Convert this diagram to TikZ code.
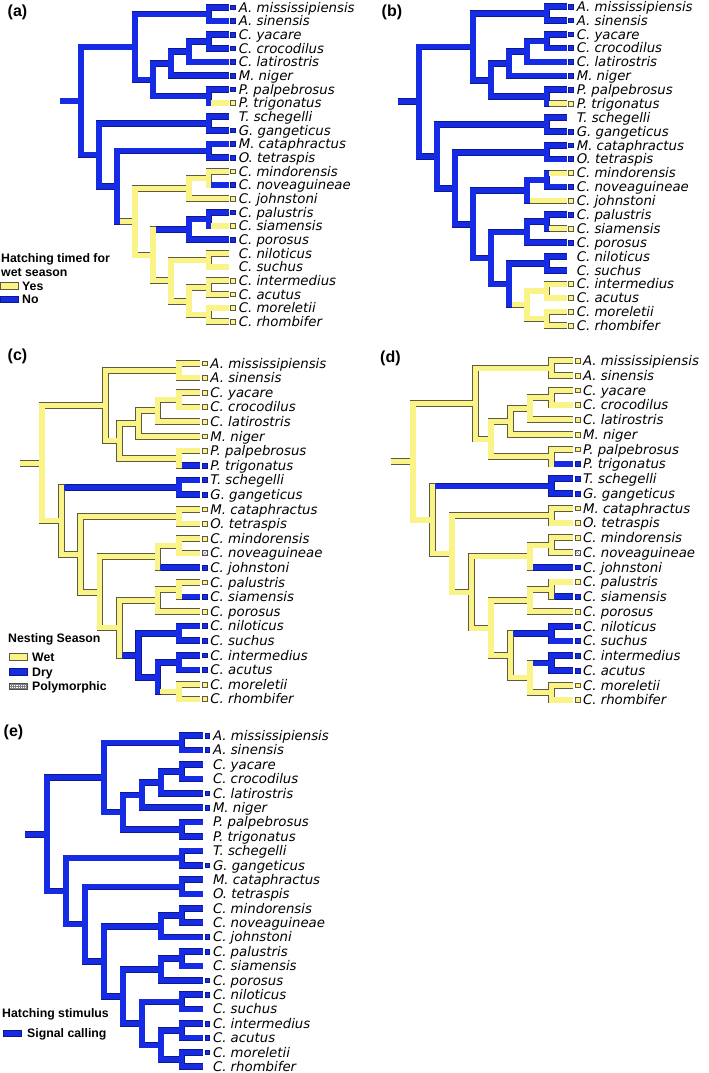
\documentclass[tikz,border=0pt]{standalone}
\usepackage{fontspec}
\setmainfont{Liberation Sans}
\newfontfamily\tipfont{DejaVu Sans}

\definecolor{wetyel}{RGB}{250,243,135}
\definecolor{wetedge}{RGB}{95,90,62}
\definecolor{dryblu}{RGB}{22,44,228}
\definecolor{dryedge}{RGB}{14,24,140}

% tree layout (same topology in every panel)
\def\leaflist{Amis,Asin,Cyac,Ccro,Clat,Mnig,Ppal,Ptri,Tsch,Ggan,Mcat,Otet,Cmin,Cnov,Cjoh,Cpal,Csia,Cpor,Cnil,Csuc,Cint,Cacu,Cmor,Crho}
\def\nodelist{nAll/7.1/0.5, nYC/7.1/2.5, nLat/6/3.25, nNig/5/4.125, nPale/7.1/6.5,
  nCai/4/5.3125, nAlg/\al/2.90625, nTG/7.1/8.5, nMO/7.1/10.5, nMN/7.1/12.5,
  nMJ/6/13.25, nPS/7.1/15.5, nPP/6/16.25, nNS/7.1/18.5, nIA/7.1/20.5, nMR/7.1/22.5,
  nIR/6/21.5, nNI/5/20, nPN/4/18.125, nCro/3/15.6875, nMC/2/13.09375,
  nCdl/1/10.796875, root/0/6.8515625}
\def\edgelist{Amis/nAll, Asin/nAll, Cyac/nYC, Ccro/nYC, nYC/nLat, Clat/nLat,
  nLat/nNig, Mnig/nNig, Ppal/nPale, Ptri/nPale, nNig/nCai, nPale/nCai, nAll/nAlg,
  nCai/nAlg, Tsch/nTG, Ggan/nTG, Mcat/nMO, Otet/nMO, Cmin/nMN, Cnov/nMN, nMN/nMJ,
  Cjoh/nMJ, Cpal/nPS, Csia/nPS, nPS/nPP, Cpor/nPP, Cnil/nNS, Csuc/nNS, Cint/nIA,
  Cacu/nIA, Cmor/nMR, Crho/nMR, nIA/nIR, nMR/nIR, nNS/nNI, nIR/nNI, nPP/nPN,
  nNI/nPN, nMJ/nCro, nPN/nCro, nMO/nMC, nCro/nMC, nTG/nCdl, nMC/nCdl, nAlg/root,
  nCdl/root, root/base}
\def\vertlist{nAll/Amis/Asin, nYC/Cyac/Ccro, nLat/nYC/Clat, nNig/nLat/Mnig,
  nPale/Ppal/Ptri, nCai/nNig/nPale, nAlg/nAll/nCai, nTG/Tsch/Ggan, nMO/Mcat/Otet,
  nMN/Cmin/Cnov, nMJ/nMN/Cjoh, nPS/Cpal/Csia, nPP/nPS/Cpor, nNS/Cnil/Csuc,
  nIA/Cint/Cacu, nMR/Cmor/Crho, nIR/nIA/nMR, nNI/nNS/nIR, nPN/nPP/nNI,
  nCro/nMJ/nPN, nMC/nMO/nCro, nCdl/nTG/nMC, root/nAlg/nCdl}
\def\labellist{Amis/A. mississipiensis, Asin/A. sinensis, Cyac/C. yacare,
  Ccro/C. crocodilus, Clat/C. latirostris, Mnig/M. niger, Ppal/P. palpebrosus,
  Ptri/P. trigonatus, Tsch/T. schegelli, Ggan/G. gangeticus, Mcat/M. cataphractus,
  Otet/O. tetraspis, Cmin/C. mindorensis, Cnov/C. noveaguineae, Cjoh/C. johnstoni,
  Cpal/C. palustris, Csia/C. siamensis, Cpor/C. porosus, Cnil/C. niloticus,
  Csuc/C. suchus, Cint/C. intermedius, Cacu/C. acutus, Cmor/C. moreletii,
  Crho/C. rhombifer}

\makeatletter
\newcommand{\pickcol}[1]{%
  \edef\tmp@list{\noexpand\in@{,#1,}{,\altlist,}}\tmp@list
  \ifin@\let\brfill\altfill\let\bredge\altedge
  \else\let\brfill\basefill\let\bredge\baseedge\fi}
\makeatother

\newcommand{\setpanel}[5]{\def\xr{#1}\def\ux{#2}\def\yo{#3}\def\rowh{#4}\def\al{#5}}

\newcommand{\drawtree}{%
  \foreach \lf [count=\i from 0] in \leaflist
    \coordinate (\lf) at ({\xr+8.2*\ux},{\yo+\i*\rowh});
  \foreach \nd/\lv/\iy in \nodelist
    \coordinate (\nd) at ({\xr+\lv*\ux},{\yo+\iy*\rowh});
  \coordinate (base) at ({\xr-1.15*\ux},{\yo+6.8515625*\rowh});
  % outlines first
  \foreach \kid/\anc in \edgelist {\pickcol{\kid}\draw[rim, draw=\bredge] (\anc |- \kid) -- (\kid);}
  \foreach \nd/\p/\q in \vertlist {\pickcol{\nd}\draw[rim, vert, draw=\bredge] (\nd |- \p) -- (\nd |- \q);}
  % then the coloured branches
  \foreach \kid/\anc in \edgelist {\pickcol{\kid}\draw[core, draw=\brfill] (\anc |- \kid) -- (\kid);}
  \foreach \nd/\p/\q in \vertlist {\pickcol{\nd}\draw[core, vert, draw=\brfill] (\nd |- \p) -- (\nd |- \q);}
  \foreach \lf in \marklist {\pickcol{\lf}\node[tipbox, fill=\brfill, draw=\bredge] (\lf-m) at ([xshift=4.5pt]\lf) {};}
  \foreach \lf/\txt in \labellist {\node[tiplab] (\lf-t) at ([xshift=10pt,yshift=-4.8pt]\lf) {\txt};}
}

\begin{document}
\begin{tikzpicture}[x=1pt, y=-1pt,
  rim/.style={line width=6.6pt},
  core/.style={line width=5.1pt},
  vert/.style={line cap=rect},
  tipbox/.style={rectangle, inner sep=0pt, minimum size=4.8pt, line width=0.6pt},
  polybox/.style={tipbox, fill=white, draw=gray!60!black,
    path picture={\draw[gray, line width=0.4pt] (path picture bounding box.south west) -- (path picture bounding box.north east)
      (path picture bounding box.north west) -- (path picture bounding box.south east);}},
  tiplab/.style={anchor=base west, inner sep=0pt, font=\tipfont\itshape\fontsize{13.3}{15}\selectfont},
  legtxt/.style={anchor=base west, inner sep=0pt, font=\bfseries\fontsize{12.3}{14}\selectfont},
  panlab/.style={anchor=west, inner sep=0pt, font=\bfseries\fontsize{16}{18}\selectfont},
  swatch/.style={rectangle, inner sep=0pt, minimum width=18pt, minimum height=6.5pt, line width=0.7pt}]
\useasboundingbox (0,0) rectangle (709,1073);

% (a) hatching timed for wet season
\begin{scope}[name prefix=a-]
  \setpanel{81}{18}{7.3}{13.67}{3}
  \def\basefill{dryblu}\def\baseedge{dryedge}\def\altfill{wetyel}\def\altedge{wetedge}
  \def\altlist{Ptri,nCro,nMJ,nMN,Cmin,Cjoh,nPN,Csia,nNI,nNS,Cnil,Csuc,nIR,nIA,nMR,Cint,Cacu,Cmor,Crho}
  \def\marklist{Amis,Asin,Cyac,Ccro,Clat,Mnig,Ppal,Ptri,Ggan,Mcat,Otet,Cmin,Cnov,Cjoh,Cpal,Csia,Cpor,Cint,Cacu,Cmor,Crho}
  \drawtree
\end{scope}

% (b)
\begin{scope}[name prefix=b-]
  \setpanel{419}{18}{6.5}{13.88}{3}
  \def\basefill{dryblu}\def\baseedge{dryedge}\def\altfill{wetyel}\def\altedge{wetedge}
  \def\altlist{Ptri,Cmin,Cjoh,Csia,nIR,nIA,nMR,Cint,Cacu,Cmor,Crho}
  \def\marklist{Amis,Asin,Cyac,Ccro,Clat,Mnig,Ppal,Ptri,Ggan,Mcat,Otet,Cmin,Cnov,Cjoh,Cpal,Csia,Cpor,Cint,Cacu,Cmor,Crho}
  \drawtree
\end{scope}

% (c) nesting season
\begin{scope}[name prefix=c-]
  \setpanel{42}{19.3}{363.3}{14.6}{3.3}
  \def\basefill{wetyel}\def\baseedge{wetedge}\def\altfill{dryblu}\def\altedge{dryedge}
  \def\altlist{Ptri,nTG,Tsch,Ggan,Cjoh,Csia,nNI,nNS,Cnil,Csuc,nIR,nIA,Cint,Cacu}
  \def\marklist{Amis,Asin,Cyac,Ccro,Clat,Mnig,Ppal,Ptri,Tsch,Ggan,Mcat,Otet,Cmin,Cjoh,Cpal,Csia,Cpor,Cnil,Csuc,Cint,Cacu,Cmor,Crho}
  \drawtree
  \node[polybox] (Cnov-m) at ([xshift=4.5pt]Cnov) {};
\end{scope}

% (d)
\begin{scope}[name prefix=d-]
  \setpanel{413}{19.5}{360.7}{14.75}{3.2}
  \def\basefill{wetyel}\def\baseedge{wetedge}\def\altfill{dryblu}\def\altedge{dryedge}
  \def\altlist{Ptri,nTG,Tsch,Ggan,Cjoh,Csia,nNS,Cnil,Csuc,nIA,Cint,Cacu}
  \def\marklist{Amis,Asin,Cyac,Ccro,Clat,Mnig,Ppal,Ptri,Tsch,Ggan,Mcat,Otet,Cmin,Cjoh,Cpal,Csia,Cpor,Cnil,Csuc,Cint,Cacu,Cmor,Crho}
  \drawtree
  \node[polybox] (Cnov-m) at ([xshift=4.5pt]Cnov) {};
\end{scope}

% (e) hatching stimulus
\begin{scope}[name prefix=e-]
  \setpanel{47}{19}{735.7}{14.39}{3}
  \def\basefill{dryblu}\def\baseedge{dryedge}\def\altfill{wetyel}\def\altedge{wetedge}
  \def\altlist{}
  \def\marklist{Amis,Asin,Clat,Mnig,Ggan,Cjoh,Cpal,Cpor,Cnil,Cint,Cacu,Cmor}
  \drawtree
\end{scope}

% panel letters
\node[panlab] (labA) at (7.5,12.5) {(a)};
\node[panlab] (labB) at (381.5,12.5) {(b)};
\node[panlab] (labC) at (7.5,356.5) {(c)};
\node[panlab] (labD) at (380,358) {(d)};
\node[panlab] (labE) at (3.5,732.5) {(e)};

% legends
\node[legtxt] (legA1) at (1,262.5) {Hatching timed for};
\node[legtxt] (legA2) at (1,276.5) {wet season};
\node[swatch, fill=wetyel, draw=wetedge] (swYes) at (9,286) {};
\node[legtxt] (legYes) at (22,290.2) {Yes};
\node[swatch, fill=dryblu, draw=dryedge] (swNo) at (9,299.3) {};
\node[legtxt] (legNo) at (22,303.5) {No};

\node[legtxt] (legC1) at (8,642.5) {Nesting Season};
\node[swatch, fill=wetyel, draw=wetedge] (swWet) at (18,657) {};
\node[legtxt] (legWet) at (32,661.3) {Wet};
\node[swatch, fill=dryblu, draw=dryedge] (swDry) at (18,671.8) {};
\node[legtxt] (legDry) at (32,676) {Dry};
\node[swatch, fill=white, draw=gray!60!black,
  path picture={\draw[gray, step=2.2pt] (path picture bounding box.south west) grid (path picture bounding box.north east);}] (swPoly) at (18,686.3) {};
\node[legtxt] (legPoly) at (32,690.5) {Polymorphic};

\node[legtxt] (legE1) at (2,1017) {Hatching stimulus};
\node[swatch, fill=dryblu, draw=dryedge] (swSig) at (12.5,1033.3) {};
\node[legtxt] (legSig) at (27,1037.5) {Signal calling};
\end{tikzpicture}
\end{document}
